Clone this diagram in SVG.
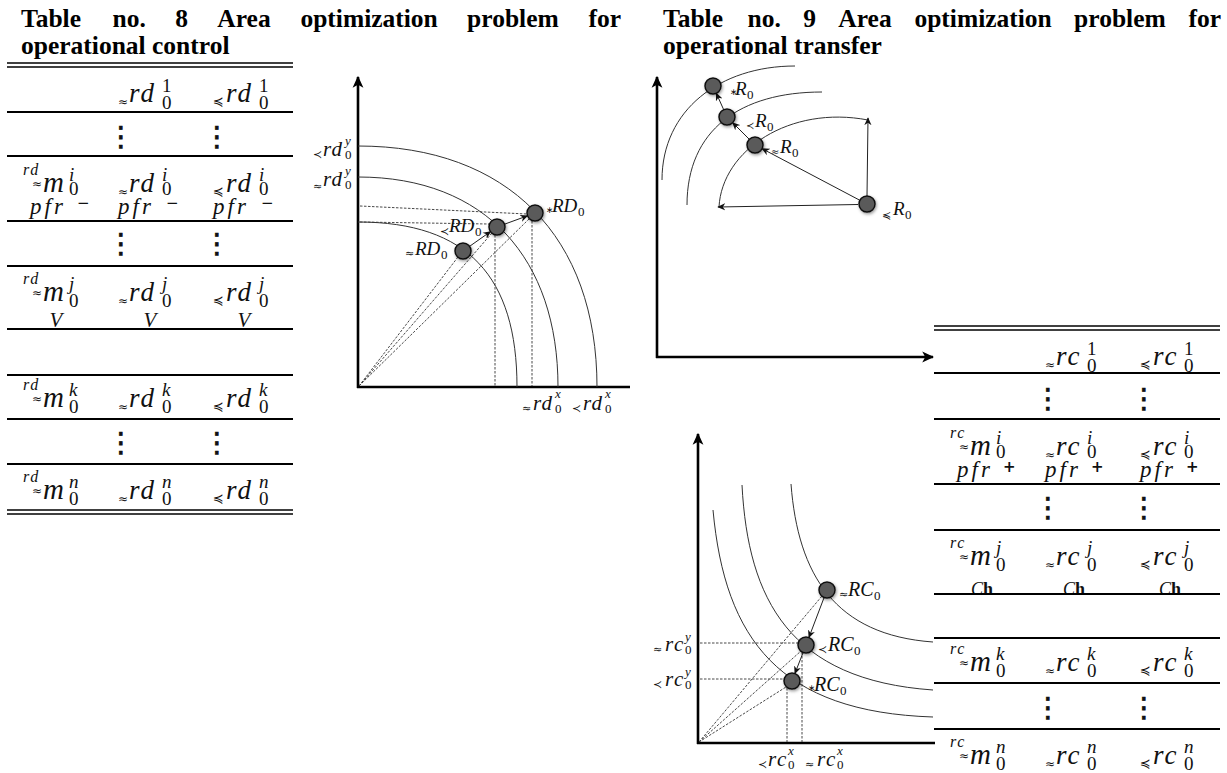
<svg xmlns="http://www.w3.org/2000/svg" width="1227" height="773" viewBox="0 0 1227 773">
<defs>
<style>
.ttl{font-family:"Liberation Serif","Times New Roman",serif;font-weight:bold;font-size:25.5px;fill:#000}
.m{font-family:"Liberation Serif","Times New Roman",serif;font-style:italic;fill:#111}
.tm{font-size:27px}
.up{font-style:normal}
.pre{font-family:"DejaVu Sans",sans-serif;font-style:normal}
.dots{font-family:"DejaVu Sans",sans-serif;font-size:28px;fill:#111;stroke:#111;stroke-width:0.7;text-anchor:middle}
.tl{stroke:#000;stroke-width:2}
.dl{stroke:#000;stroke-width:1.4}
.ax{stroke:#000;stroke-width:2.6;fill:none}
.cv{stroke:#333;stroke-width:1;fill:none}
.ds{stroke:#333;stroke-width:0.9;stroke-dasharray:2.5 1.5;fill:none}
.ar{stroke:#222;stroke-width:1;fill:none;marker-end:url(#ah)}
.pt{fill:#5a5a5a;stroke:#111;stroke-width:1.5;filter:url(#sh)}
</style>
<marker id="ah" viewBox="0 0 10 10" refX="9" refY="5" markerWidth="8" markerHeight="8" markerUnits="userSpaceOnUse" orient="auto"><path d="M0,0.5 L10,5 L0,9.5 L3,5 z" fill="#111"/></marker>
<marker id="axh" viewBox="0 0 10 10" refX="9" refY="5" markerWidth="12" markerHeight="12" markerUnits="userSpaceOnUse" orient="auto"><path d="M0,0.5 L10,5 L0,9.5 L2.5,5 z" fill="#000"/></marker>
<filter id="sh" x="-60%" y="-60%" width="220%" height="220%"><feDropShadow dx="1" dy="1.5" stdDeviation="1.6" flood-color="#000" flood-opacity="0.4"/></filter>
</defs>
<rect width="1227" height="773" fill="#fff"/>

<g id="title8" class="ttl">
<text x="21" y="27">Table</text><text x="112.6" y="27">no.</text><text x="175.2" y="27">8</text><text x="217.3" y="27">Area</text><text x="300.4" y="27">optimization</text><text x="467.1" y="27">problem</text><text x="621" y="27" text-anchor="end">for</text>
<text x="21" y="54">operational control</text>
</g>
<g id="title9" class="ttl">
<text x="663" y="27">Table</text><text x="747.6" y="27">no.</text><text x="803.2" y="27">9</text><text x="838.3" y="27">Area</text><text x="914.4" y="27">optimization</text><text x="1074.1" y="27">problem</text><text x="1221" y="27" text-anchor="end">for</text>
<text x="663" y="54">operational transfer</text>
</g>

<g id="table8">
<line class="dl" x1="7" y1="63" x2="293" y2="63"/><line class="dl" x1="7" y1="67" x2="293" y2="67"/>
<line class="tl" x1="7" y1="112" x2="293" y2="112"/><line class="tl" x1="7" y1="156" x2="293" y2="156"/>
<line class="tl" x1="7" y1="221" x2="293" y2="221"/><line class="tl" x1="7" y1="266" x2="293" y2="266"/>
<line class="tl" x1="7" y1="329" x2="293" y2="329"/><line class="tl" x1="7" y1="375" x2="293" y2="375"/>
<line class="tl" x1="7" y1="419" x2="293" y2="419"/><line class="tl" x1="7" y1="464" x2="293" y2="464"/>
<line class="dl" x1="7" y1="510" x2="293" y2="510"/><line class="dl" x1="7" y1="514" x2="293" y2="514"/>
<text class="m tm"><tspan class="pre" font-size="12" x="118" y="106">≈</tspan><tspan x="129" y="102" letter-spacing="2">rd</tspan><tspan class="up" font-size="19" x="162" y="92">1</tspan><tspan class="up" font-size="19" x="162" y="109">0</tspan></text>
<text class="m tm"><tspan class="pre" font-size="13" x="213" y="106">≼</tspan><tspan x="226" y="102" letter-spacing="2">rd</tspan><tspan class="up" font-size="19" x="259" y="92">1</tspan><tspan class="up" font-size="19" x="259" y="109">0</tspan></text>
<text class="dots" x="121" y="146">⋮</text><text class="dots" x="217" y="146">⋮</text>
<text class="m tm"><tspan font-size="16" letter-spacing="1.5" x="23" y="175">rd</tspan><tspan class="pre" font-size="12" x="32" y="188">≈</tspan><tspan font-size="29" x="43" y="192">m</tspan><tspan font-size="19" x="69" y="181">i</tspan><tspan class="up" font-size="19" x="69" y="195">0</tspan></text>
<text class="m tm"><tspan class="pre" font-size="12" x="118" y="196">≈</tspan><tspan x="129" y="192" letter-spacing="2">rd</tspan><tspan font-size="19" x="162" y="181">i</tspan><tspan class="up" font-size="19" x="162" y="195">0</tspan></text>
<text class="m tm"><tspan class="pre" font-size="13" x="213" y="196">≼</tspan><tspan x="226" y="192" letter-spacing="2">rd</tspan><tspan font-size="19" x="259" y="181">i</tspan><tspan class="up" font-size="19" x="259" y="195">0</tspan></text>
<text class="m" font-size="23"><tspan x="30" y="214" letter-spacing="3">pfr</tspan><tspan class="pre" font-size="15" x="77" y="208">−</tspan></text>
<text class="m" font-size="23"><tspan x="118" y="214" letter-spacing="3">pfr</tspan><tspan class="pre" font-size="15" x="166" y="208">−</tspan></text>
<text class="m" font-size="23"><tspan x="213" y="214" letter-spacing="3">pfr</tspan><tspan class="pre" font-size="15" x="261" y="208">−</tspan></text>
<text class="dots" x="121" y="253">⋮</text><text class="dots" x="217" y="253">⋮</text>
<text class="m tm"><tspan font-size="16" letter-spacing="1.5" x="23" y="284">rd</tspan><tspan class="pre" font-size="12" x="32" y="297">≈</tspan><tspan font-size="29" x="43" y="301">m</tspan><tspan font-size="19" x="69" y="290">j</tspan><tspan class="up" font-size="19" x="69" y="307">0</tspan></text>
<text class="m tm"><tspan class="pre" font-size="12" x="118" y="305">≈</tspan><tspan x="129" y="301" letter-spacing="2">rd</tspan><tspan font-size="19" x="162" y="290">j</tspan><tspan class="up" font-size="19" x="162" y="307">0</tspan></text>
<text class="m tm"><tspan class="pre" font-size="13" x="213" y="305">≼</tspan><tspan x="226" y="301" letter-spacing="2">rd</tspan><tspan font-size="19" x="259" y="290">j</tspan><tspan class="up" font-size="19" x="259" y="307">0</tspan></text>
<text class="m" font-size="21" text-anchor="middle" x="56" y="327">V</text>
<text class="m" font-size="21" text-anchor="middle" x="150" y="327">V</text>
<text class="m" font-size="21" text-anchor="middle" x="244" y="327">V</text>
<text class="m tm"><tspan font-size="16" letter-spacing="1.5" x="23" y="390">rd</tspan><tspan class="pre" font-size="12" x="32" y="403">≈</tspan><tspan font-size="29" x="43" y="407">m</tspan><tspan font-size="19" x="69" y="396">k</tspan><tspan class="up" font-size="19" x="69" y="413">0</tspan></text>
<text class="m tm"><tspan class="pre" font-size="12" x="118" y="411">≈</tspan><tspan x="129" y="407" letter-spacing="2">rd</tspan><tspan font-size="19" x="162" y="396">k</tspan><tspan class="up" font-size="19" x="162" y="413">0</tspan></text>
<text class="m tm"><tspan class="pre" font-size="13" x="213" y="411">≼</tspan><tspan x="226" y="407" letter-spacing="2">rd</tspan><tspan font-size="19" x="259" y="396">k</tspan><tspan class="up" font-size="19" x="259" y="413">0</tspan></text>
<text class="dots" x="121" y="452">⋮</text><text class="dots" x="217" y="452">⋮</text>
<text class="m tm"><tspan font-size="16" letter-spacing="1.5" x="23" y="482">rd</tspan><tspan class="pre" font-size="12" x="32" y="495">≈</tspan><tspan font-size="29" x="43" y="499">m</tspan><tspan font-size="19" x="69" y="488">n</tspan><tspan class="up" font-size="19" x="69" y="505">0</tspan></text>
<text class="m tm"><tspan class="pre" font-size="12" x="118" y="503">≈</tspan><tspan x="129" y="499" letter-spacing="2">rd</tspan><tspan font-size="19" x="162" y="488">n</tspan><tspan class="up" font-size="19" x="162" y="505">0</tspan></text>
<text class="m tm"><tspan class="pre" font-size="13" x="213" y="503">≼</tspan><tspan x="226" y="499" letter-spacing="2">rd</tspan><tspan font-size="19" x="259" y="488">n</tspan><tspan class="up" font-size="19" x="259" y="505">0</tspan></text>
</g>

<g id="table9" transform="translate(927,263)">
<line class="dl" x1="7" y1="63" x2="293" y2="63"/><line class="dl" x1="7" y1="67" x2="293" y2="67"/>
<line class="tl" x1="7" y1="110" x2="293" y2="110"/><line class="tl" x1="7" y1="156" x2="293" y2="156"/>
<line class="tl" x1="7" y1="221" x2="293" y2="221"/><line class="tl" x1="7" y1="267" x2="293" y2="267"/>
<line class="tl" x1="7" y1="375" x2="293" y2="375"/>
<line class="tl" x1="7" y1="420" x2="293" y2="420"/><line class="tl" x1="7" y1="466" x2="293" y2="466"/>
<text class="m tm"><tspan class="pre" font-size="12" x="118" y="106">≈</tspan><tspan x="129" y="102" letter-spacing="2">rc</tspan><tspan class="up" font-size="19" x="160" y="92">1</tspan><tspan class="up" font-size="19" x="160" y="109">0</tspan></text>
<text class="m tm"><tspan class="pre" font-size="13" x="213" y="106">≼</tspan><tspan x="226" y="102" letter-spacing="2">rc</tspan><tspan class="up" font-size="19" x="257" y="92">1</tspan><tspan class="up" font-size="19" x="257" y="109">0</tspan></text>
<text class="dots" x="121" y="145">⋮</text><text class="dots" x="217" y="145">⋮</text>
<text class="m tm"><tspan font-size="16" letter-spacing="1.5" x="23" y="175">rc</tspan><tspan class="pre" font-size="12" x="32" y="188">≈</tspan><tspan font-size="29" x="43" y="192">m</tspan><tspan font-size="19" x="69" y="181">i</tspan><tspan class="up" font-size="19" x="69" y="195">0</tspan></text>
<text class="m tm"><tspan class="pre" font-size="12" x="118" y="196">≈</tspan><tspan x="129" y="192" letter-spacing="2">rc</tspan><tspan font-size="19" x="160" y="181">i</tspan><tspan class="up" font-size="19" x="160" y="195">0</tspan></text>
<text class="m tm"><tspan class="pre" font-size="13" x="213" y="196">≼</tspan><tspan x="226" y="192" letter-spacing="2">rc</tspan><tspan font-size="19" x="257" y="181">i</tspan><tspan class="up" font-size="19" x="257" y="195">0</tspan></text>
<text class="m" font-size="23"><tspan x="30" y="214" letter-spacing="3">pfr</tspan><tspan class="pre" font-size="15" font-weight="bold" x="76" y="209">+</tspan></text>
<text class="m" font-size="23"><tspan x="118" y="214" letter-spacing="3">pfr</tspan><tspan class="pre" font-size="15" font-weight="bold" x="164" y="209">+</tspan></text>
<text class="m" font-size="23"><tspan x="213" y="214" letter-spacing="3">pfr</tspan><tspan class="pre" font-size="15" font-weight="bold" x="259" y="209">+</tspan></text>
<text class="dots" x="121" y="254">⋮</text><text class="dots" x="217" y="254">⋮</text>
<text class="m tm"><tspan font-size="16" letter-spacing="1.5" x="23" y="285">rc</tspan><tspan class="pre" font-size="12" x="32" y="298">≈</tspan><tspan font-size="29" x="43" y="302">m</tspan><tspan font-size="19" x="69" y="291">j</tspan><tspan class="up" font-size="19" x="69" y="308">0</tspan></text>
<text class="m tm"><tspan class="pre" font-size="12" x="118" y="306">≈</tspan><tspan x="129" y="302" letter-spacing="2">rc</tspan><tspan font-size="19" x="160" y="291">j</tspan><tspan class="up" font-size="19" x="160" y="308">0</tspan></text>
<text class="m tm"><tspan class="pre" font-size="13" x="213" y="306">≼</tspan><tspan x="226" y="302" letter-spacing="2">rc</tspan><tspan font-size="19" x="257" y="291">j</tspan><tspan class="up" font-size="19" x="257" y="308">0</tspan></text>
<text class="m" font-size="18" text-anchor="middle" x="55" y="332">C<tspan class="up" font-weight="bold">h</tspan></text>
<text class="m" font-size="18" text-anchor="middle" x="147" y="332">C<tspan class="up" font-weight="bold">h</tspan></text>
<text class="m" font-size="18" text-anchor="middle" x="243" y="332">C<tspan class="up" font-weight="bold">h</tspan></text>
<line class="tl" x1="7" y1="331" x2="293" y2="331"/>
<text class="m tm"><tspan font-size="16" letter-spacing="1.5" x="23" y="391">rc</tspan><tspan class="pre" font-size="12" x="32" y="404">≈</tspan><tspan font-size="29" x="43" y="408">m</tspan><tspan font-size="19" x="69" y="397">k</tspan><tspan class="up" font-size="19" x="69" y="414">0</tspan></text>
<text class="m tm"><tspan class="pre" font-size="12" x="118" y="412">≈</tspan><tspan x="129" y="408" letter-spacing="2">rc</tspan><tspan font-size="19" x="160" y="397">k</tspan><tspan class="up" font-size="19" x="160" y="414">0</tspan></text>
<text class="m tm"><tspan class="pre" font-size="13" x="213" y="412">≼</tspan><tspan x="226" y="408" letter-spacing="2">rc</tspan><tspan font-size="19" x="257" y="397">k</tspan><tspan class="up" font-size="19" x="257" y="414">0</tspan></text>
<text class="dots" x="121" y="454">⋮</text><text class="dots" x="217" y="454">⋮</text>
<text class="m tm"><tspan font-size="16" letter-spacing="1.5" x="23" y="484">rc</tspan><tspan class="pre" font-size="12" x="32" y="497">≈</tspan><tspan font-size="29" x="43" y="501">m</tspan><tspan font-size="19" x="69" y="490">n</tspan><tspan class="up" font-size="19" x="69" y="507">0</tspan></text>
<text class="m tm"><tspan class="pre" font-size="12" x="118" y="505">≈</tspan><tspan x="129" y="501" letter-spacing="2">rc</tspan><tspan font-size="19" x="160" y="490">n</tspan><tspan class="up" font-size="19" x="160" y="507">0</tspan></text>
<text class="m tm"><tspan class="pre" font-size="13" x="213" y="505">≼</tspan><tspan x="226" y="501" letter-spacing="2">rc</tspan><tspan font-size="19" x="257" y="490">n</tspan><tspan class="up" font-size="19" x="257" y="507">0</tspan></text>
</g>

<g id="chart-control">
<line class="ax" x1="358" y1="388" x2="358" y2="77" marker-end="url(#axh)"/>
<line class="ax" x1="357" y1="387" x2="630" y2="387"/>
<path class="cv" d="M358,146 C508,146 597,237 597,387"/>
<path class="cv" d="M358,177 C486,177 558,259 558,387"/>
<path class="cv" d="M358,222 C468,222 517,277 517,387"/>
<text class="m" font-size="21"><tspan class="pre" font-size="11" x="313" y="158">≺</tspan><tspan x="323" y="156" letter-spacing="1">rd</tspan><tspan font-size="13" x="345" y="145">y</tspan><tspan class="up" font-size="13" x="345" y="159">0</tspan></text>
<text class="m" font-size="21"><tspan class="pre" font-size="11" x="313" y="190">≈</tspan><tspan x="323" y="186" letter-spacing="1">rd</tspan><tspan font-size="13" x="345" y="175">y</tspan><tspan class="up" font-size="13" x="345" y="189">0</tspan></text>
<text class="m" font-size="21"><tspan class="pre" font-size="11" x="522" y="412">≈</tspan><tspan x="533" y="410" letter-spacing="1">rd</tspan><tspan font-size="13" x="555" y="398">x</tspan><tspan class="up" font-size="13" x="555" y="413">0</tspan></text>
<text class="m" font-size="21"><tspan class="pre" font-size="11" x="572" y="412">≺</tspan><tspan x="583" y="410" letter-spacing="1">rd</tspan><tspan font-size="13" x="605" y="398">x</tspan><tspan class="up" font-size="13" x="605" y="413">0</tspan></text>
</g>
<g id="connectors-control">
<line class="ds" x1="360" y1="206" x2="527" y2="214"/>
<line class="ds" x1="360" y1="222" x2="489" y2="224"/>
<line class="ds" x1="532" y1="221" x2="532" y2="386"/>
<line class="ds" x1="495" y1="235" x2="495" y2="386"/>
<line class="ds" x1="359" y1="386" x2="458" y2="257"/>
<line class="ds" x1="359" y1="386" x2="492" y2="233"/>
<line class="ds" x1="359" y1="386" x2="529" y2="219"/>
<line class="ar" x1="469.5" y1="246.4" x2="490.5" y2="231.6"/>
<line class="ar" x1="504.5" y1="224.2" x2="527.5" y2="215.8"/>
</g>
<g id="node-RD-approx"><circle class="pt" cx="463" cy="251" r="8"/><text class="m" font-size="19"><tspan class="pre" font-size="11" x="405" y="257">≈</tspan><tspan x="415" y="255">RD</tspan><tspan class="up" font-size="13" x="441" y="259">0</tspan></text></g>
<g id="node-RD-prec"><circle class="pt" cx="497" cy="227" r="8"/><text class="m" font-size="19"><tspan class="pre" font-size="11" x="440" y="235">≺</tspan><tspan x="449" y="232">RD</tspan><tspan class="up" font-size="13" x="475" y="236">0</tspan></text></g>
<g id="node-RD-star"><circle class="pt" cx="535" cy="213" r="8"/><text class="m" font-size="19"><tspan class="pre" font-size="9" x="546" y="213">∗</tspan><tspan x="552" y="212">RD</tspan><tspan class="up" font-size="13" x="578" y="216">0</tspan></text></g>

<g id="chart-transfer">
<line class="ax" x1="657" y1="358" x2="657" y2="77" marker-end="url(#axh)"/>
<line class="ax" x1="656" y1="357" x2="933" y2="357" marker-end="url(#axh)"/>
<path class="cv" d="M662,180 C662,110 720,66 795,66"/>
<path class="cv" d="M687,205 C687,130 740,92 822,92"/>
<path class="cv" d="M719,207 C722,150 790,105 868,120"/>
</g>
<g id="connectors-transfer">
<line class="ar" x1="859.9" y1="200.3" x2="762.1" y2="148.7"/>
<line class="ar" x1="749.3" y1="139.3" x2="732.7" y2="122.7"/>
<line class="ar" x1="723.7" y1="109.7" x2="716.3" y2="93.3"/>
<line class="ar" x1="858" y1="204.5" x2="718" y2="207"/>
<line class="ar" x1="867" y1="196" x2="868" y2="118"/>
</g>
<g id="node-R-star"><circle class="pt" cx="713" cy="86" r="8"/><text class="m" font-size="19"><tspan class="pre" font-size="9" x="730" y="95">∗</tspan><tspan x="735" y="95">R</tspan><tspan class="up" font-size="13" x="747" y="99">0</tspan></text></g>
<g id="node-R-prec"><circle class="pt" cx="727" cy="117" r="8"/><text class="m" font-size="19"><tspan class="pre" font-size="10" x="746" y="129">≺</tspan><tspan x="755" y="127">R</tspan><tspan class="up" font-size="13" x="767" y="131">0</tspan></text></g>
<g id="node-R-approx"><circle class="pt" cx="755" cy="145" r="8"/><text class="m" font-size="19"><tspan class="pre" font-size="10" x="771" y="155">≈</tspan><tspan x="780" y="153">R</tspan><tspan class="up" font-size="13" x="792" y="157">0</tspan></text></g>
<g id="node-R-pleq"><circle class="pt" cx="867" cy="204" r="8"/><text class="m" font-size="19"><tspan class="pre" font-size="11" x="882" y="219">≼</tspan><tspan x="893" y="215">R</tspan><tspan class="up" font-size="13" x="905" y="219">0</tspan></text></g>

<g id="chart-rc">
<line class="ax" x1="698" y1="744" x2="698" y2="434" marker-end="url(#axh)"/>
<line class="ax" x1="697" y1="743" x2="935" y2="743"/>
<path class="cv" d="M713,510 C725,640 780,712 933,717"/>
<path class="cv" d="M742,485 C748,600 790,680 933,690"/>
<path class="cv" d="M791,484 C798,575 835,635 933,642"/>
<text class="m" font-size="21"><tspan class="pre" font-size="11" x="653" y="653">≈</tspan><tspan x="665" y="651" letter-spacing="1.5">rc</tspan><tspan font-size="13" x="685" y="641">y</tspan><tspan class="up" font-size="13" x="685" y="654">0</tspan></text>
<text class="m" font-size="21"><tspan class="pre" font-size="11" x="653" y="688">≺</tspan><tspan x="665" y="686" letter-spacing="1.5">rc</tspan><tspan font-size="13" x="685" y="676">y</tspan><tspan class="up" font-size="13" x="685" y="689">0</tspan></text>
<text class="m" font-size="21"><tspan class="pre" font-size="11" x="758" y="768">≺</tspan><tspan x="768" y="766" letter-spacing="1.5">rc</tspan><tspan font-size="13" x="788" y="755">x</tspan><tspan class="up" font-size="13" x="788" y="769">0</tspan></text>
<text class="m" font-size="21"><tspan class="pre" font-size="11" x="805" y="768">≈</tspan><tspan x="817" y="766" letter-spacing="1.5">rc</tspan><tspan font-size="13" x="837" y="755">x</tspan><tspan class="up" font-size="13" x="837" y="769">0</tspan></text>
</g>
<g id="connectors-rc">
<line class="ds" x1="700" y1="643" x2="798" y2="643"/>
<line class="ds" x1="700" y1="679" x2="784" y2="679"/>
<line class="ds" x1="787" y1="688" x2="787" y2="742"/>
<line class="ds" x1="802" y1="652" x2="802" y2="742"/>
<line class="ds" x1="699" y1="742" x2="822" y2="596"/>
<line class="ds" x1="699" y1="742" x2="801" y2="651"/>
<line class="ds" x1="699" y1="742" x2="786" y2="687"/>
<line class="ar" x1="824.1" y1="597.5" x2="808.9" y2="637.5"/>
<line class="ar" x1="803.1" y1="652.5" x2="794.9" y2="673.5"/>
</g>
<g id="node-RC-approx"><circle class="pt" cx="827" cy="590" r="8"/><text class="m" font-size="20"><tspan class="pre" font-size="11" x="839" y="598">≈</tspan><tspan x="848" y="596">RC</tspan><tspan class="up" font-size="13" x="874" y="600">0</tspan></text></g>
<g id="node-RC-prec"><circle class="pt" cx="806" cy="645" r="8"/><text class="m" font-size="20"><tspan class="pre" font-size="11" x="818" y="653">≺</tspan><tspan x="828" y="651">RC</tspan><tspan class="up" font-size="13" x="854" y="655">0</tspan></text></g>
<g id="node-RC-star"><circle class="pt" cx="792" cy="681" r="8"/><text class="m" font-size="20"><tspan class="pre" font-size="9" x="808" y="691">∗</tspan><tspan x="814" y="691">RC</tspan><tspan class="up" font-size="13" x="840" y="695">0</tspan></text></g>
</svg>
